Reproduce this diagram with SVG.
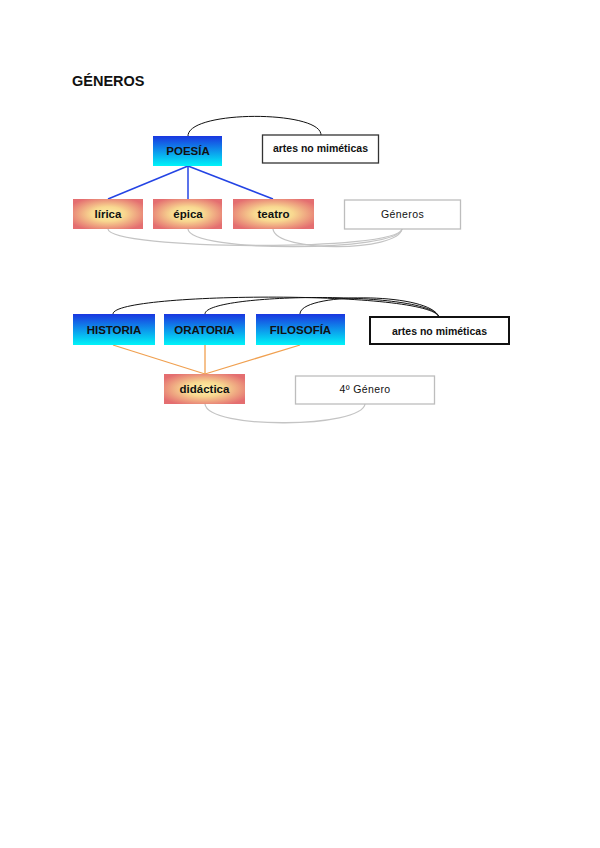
<svg xmlns="http://www.w3.org/2000/svg" width="600" height="848" viewBox="0 0 600 848">
<defs>
<linearGradient id="blue" x1="0" y1="0" x2="0" y2="1">
<stop offset="0" stop-color="#1a36e0"/>
<stop offset="1" stop-color="#00f4f8"/>
</linearGradient>
<radialGradient id="orange" cx="0.5" cy="0.5" r="0.6">
<stop offset="0" stop-color="#fff0a8"/>
<stop offset="0.4" stop-color="#f8d890"/>
<stop offset="1" stop-color="#e46e70"/>
</radialGradient>
<style>
.t{font-family:"Liberation Sans",Arial,sans-serif;font-weight:bold;fill:#111;text-anchor:middle}
.big{font-size:11.5px}
.sm{font-size:10.5px}
.rg{font-size:10.5px;font-weight:normal;letter-spacing:0.4px}
.bl{fill:url(#blue);stroke:none}
.or{fill:url(#orange);stroke:none}
.wb{fill:#fff}
.blk{fill:none;stroke:#111;stroke-width:1}
.gry{fill:none;stroke:#c4c4c4;stroke-width:1.3}
.bline{stroke:#2444e4;stroke-width:1.5}
.oline{stroke:#f0a050;stroke-width:1.3}
</style>
</defs>
<rect width="600" height="848" fill="#fff"/>
<text x="72" y="86" font-family="Liberation Sans,Arial,sans-serif" font-weight="bold" font-size="14.5" fill="#111">GÉNEROS</text>

<g id="connectors">
<path class="blk" d="M188,136 C188,110 321,110 321,135"/>
<line class="bline" x1="188" y1="166" x2="108" y2="199"/>
<line class="bline" x1="188" y1="166" x2="188" y2="199"/>
<line class="bline" x1="188" y1="166" x2="273" y2="199"/>
<path class="gry" d="M108,229 C110,250 398,252 402,229"/>
<path class="gry" d="M188,229 C190,253 398,252 402,229"/>
<path class="gry" d="M273,229 C276,253 398,252 402,229"/>
<path class="blk" d="M113,314 C113,292 430,290 439,317"/>
<path class="blk" d="M205,314 C205,293 430,290 439,317"/>
<path class="blk" d="M300,314 C300,292 430,292 439,317"/>
<line class="oline" x1="113" y1="345" x2="205" y2="374"/>
<line class="oline" x1="205" y1="345" x2="205" y2="374"/>
<line class="oline" x1="300" y1="345" x2="205" y2="374"/>
<path class="gry" d="M205,404 C208,430 362,428 365,404"/>
</g>

<g id="poesia"><rect class="bl" x="153" y="136" width="69" height="30"/><text class="t big" x="188" y="155">POESÍA</text></g>
<g id="artes1"><rect class="wb" x="262.5" y="135" width="116" height="28" stroke="#333" stroke-width="1.3"/><text class="t sm" x="320.5" y="152">artes no miméticas</text></g>
<g id="lirica"><rect class="or" x="73" y="199" width="70" height="30"/><text class="t big" x="108" y="218">lírica</text></g>
<g id="epica"><rect class="or" x="153" y="199" width="69" height="30"/><text class="t big" x="188" y="218">épica</text></g>
<g id="teatro"><rect class="or" x="233" y="199" width="81" height="30"/><text class="t big" x="273.5" y="218">teatro</text></g>
<g id="generos"><rect class="wb" x="344.5" y="200" width="116" height="29" stroke="#bdbdbd" stroke-width="1.3"/><text class="t rg" x="402.5" y="218">Géneros</text></g>

<g id="historia"><rect class="bl" x="73" y="314" width="82" height="31"/><text class="t big" x="114" y="334">HISTORIA</text></g>
<g id="oratoria"><rect class="bl" x="164" y="314" width="81" height="31"/><text class="t big" x="204.5" y="334">ORATORIA</text></g>
<g id="filosofia"><rect class="bl" x="256" y="314" width="89" height="31"/><text class="t big" x="300.5" y="334">FILOSOFÍA</text></g>
<g id="artes2"><rect class="wb" x="370" y="317" width="139" height="27" stroke="#111" stroke-width="2"/><text class="t sm" x="439.5" y="334.5">artes no miméticas</text></g>
<g id="didactica"><rect class="or" x="164" y="374" width="81" height="30"/><text class="t big" x="204.5" y="393">didáctica</text></g>
<g id="cuarto"><rect class="wb" x="295.5" y="376" width="139" height="28" stroke="#bdbdbd" stroke-width="1.3"/><text class="t rg" x="365" y="393">4º Género</text></g>
</svg>
